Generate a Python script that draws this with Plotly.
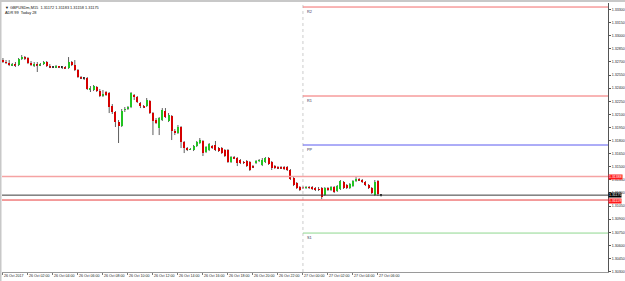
import plotly.graph_objects as go

# ---------------- data (GBPUSDm, M15, 26 Oct 2017 00:00 -> 27 Oct 06:15) ----------------
open_ = [1.32722,1.32699,1.32688,1.32665,1.32676,1.32665,1.32733,1.32756,1.32745,1.32688,
         1.32665,1.32676,1.32665,1.32676,1.32699,1.32653,1.32642,1.32642,1.32653,1.32642,
         1.32642,1.32630,1.32699,1.32665,1.32608,1.32527,1.32516,1.32516,1.32390,1.32379,
         1.32413,1.32367,1.32321,1.32356,1.32344,1.32195,1.32127,1.32012,1.31966,1.32150,
         1.32172,1.32184,1.32321,1.32298,1.32230,1.32195,1.32195,1.32253,1.32115,1.32035,
         1.31943,1.32035,1.32138,1.32024,1.32081,1.31909,1.31886,1.31955,1.31783,1.31714,
         1.31692,1.31692,1.31737,1.31772,1.31795,1.31669,1.31692,1.31737,1.31749,1.31714,
         1.31714,1.31692,1.31692,1.31554,1.31611,1.31600,1.31577,1.31554,1.31566,1.31554,
         1.31508,1.31543,1.31566,1.31520,1.31554,1.31600,1.31554,1.31508,1.31497,1.31497,
         1.31497,1.31497,1.31463,1.31371,1.31314,1.31268,1.31268,1.31257,1.31268,1.31268,
         1.31257,1.31245,1.31257,1.31176,1.31257,1.31234,1.31268,1.31222,1.31245,1.31325,
         1.31291,1.31257,1.31279,1.31337,1.31360,1.31348,1.31325,1.31291,1.31257,1.31176,
         1.31337,1.31172]
high = [1.32745,1.32722,1.32722,1.32688,1.32699,1.32745,1.32779,1.32768,1.32756,1.32711,
        1.32699,1.32699,1.32688,1.32711,1.32711,1.32676,1.32653,1.32665,1.32653,1.32653,
        1.32653,1.32756,1.32711,1.32722,1.32619,1.32539,1.32527,1.32527,1.32424,1.32436,
        1.32424,1.32390,1.32379,1.32367,1.32356,1.32218,1.32138,1.32035,1.32161,1.32184,
        1.32195,1.32356,1.32333,1.32310,1.32241,1.32207,1.32287,1.32264,1.32127,1.32058,
        1.32069,1.32172,1.32172,1.32115,1.32092,1.31932,1.31978,1.31966,1.31795,1.31726,
        1.31714,1.31749,1.31795,1.31829,1.31806,1.31737,1.31772,1.31749,1.31795,1.31726,
        1.31726,1.31703,1.31703,1.31623,1.31623,1.31611,1.31588,1.31566,1.31577,1.31566,
        1.31520,1.31577,1.31588,1.31600,1.31611,1.31611,1.31566,1.31520,1.31508,1.31508,
        1.31508,1.31508,1.31474,1.31382,1.31325,1.31279,1.31279,1.31279,1.31279,1.31279,
        1.31268,1.31268,1.31268,1.31268,1.31268,1.31279,1.31279,1.31291,1.31348,1.31337,
        1.31302,1.31314,1.31348,1.31382,1.31371,1.31360,1.31337,1.31302,1.31268,1.31348,
        1.31348,1.31183]
low = [1.32688,1.32676,1.32653,1.32653,1.32642,1.32653,1.32722,1.32722,1.32676,1.32653,
       1.32642,1.32585,1.32653,1.32665,1.32642,1.32630,1.32630,1.32630,1.32630,1.32619,
       1.32619,1.32619,1.32653,1.32596,1.32516,1.32504,1.32493,1.32379,1.32356,1.32367,
       1.32356,1.32298,1.32298,1.32310,1.32115,1.32104,1.31955,1.31772,1.31955,1.32127,
       1.32150,1.32172,1.32264,1.32230,1.32172,1.32172,1.32184,1.32104,1.31863,1.31989,
       1.31863,1.32024,1.32058,1.32012,1.31806,1.31863,1.31875,1.31714,1.31657,1.31680,
       1.31692,1.31680,1.31726,1.31760,1.31623,1.31657,1.31680,1.31703,1.31680,1.31669,
       1.31646,1.31611,1.31543,1.31543,1.31588,1.31508,1.31531,1.31531,1.31497,1.31451,
       1.31485,1.31531,1.31554,1.31508,1.31543,1.31520,1.31463,1.31474,1.31474,1.31474,
       1.31463,1.31451,1.31348,1.31279,1.31245,1.31222,1.31245,1.31245,1.31245,1.31234,
       1.31222,1.31222,1.31130,1.31165,1.31222,1.31222,1.31199,1.31211,1.31234,1.31245,
       1.31245,1.31245,1.31268,1.31325,1.31337,1.31314,1.31279,1.31245,1.31188,1.31165,
       1.31165,1.31158]
close = [1.32699,1.32688,1.32665,1.32676,1.32665,1.32733,1.32756,1.32745,1.32688,1.32665,
         1.32676,1.32665,1.32676,1.32699,1.32653,1.32642,1.32642,1.32653,1.32642,1.32642,
         1.32630,1.32699,1.32665,1.32608,1.32527,1.32516,1.32516,1.32390,1.32401,1.32424,
         1.32367,1.32310,1.32333,1.32321,1.32184,1.32127,1.32012,1.31966,1.32138,1.32161,
         1.32184,1.32344,1.32298,1.32241,1.32195,1.32184,1.32264,1.32115,1.32024,1.32001,
         1.32058,1.32150,1.32069,1.32092,1.31909,1.31886,1.31955,1.31783,1.31714,1.31692,
         1.31703,1.31737,1.31783,1.31806,1.31657,1.31726,1.31760,1.31714,1.31692,1.31680,
         1.31657,1.31623,1.31554,1.31611,1.31600,1.31543,1.31543,1.31543,1.31508,1.31463,
         1.31497,1.31566,1.31577,1.31577,1.31600,1.31531,1.31485,1.31485,1.31485,1.31485,
         1.31474,1.31463,1.31360,1.31291,1.31257,1.31234,1.31257,1.31268,1.31257,1.31245,
         1.31234,1.31234,1.31153,1.31257,1.31234,1.31268,1.31211,1.31279,1.31337,1.31257,
         1.31257,1.31302,1.31337,1.31360,1.31348,1.31325,1.31291,1.31257,1.31199,1.31325,
         1.31188,1.31175]

tick_index = list(range(0, 121, 8))
tick_labels = ["26 Oct 2017", "26 Oct 02:00", "26 Oct 04:00", "26 Oct 06:00", "26 Oct 08:00",
               "26 Oct 10:00", "26 Oct 12:00", "26 Oct 14:00", "26 Oct 16:00", "26 Oct 18:00",
               "26 Oct 20:00", "26 Oct 22:00", "27 Oct 00:00", "27 Oct 02:00", "27 Oct 04:00",
               "27 Oct 06:00"]
price_ticks = [round(1.30300 + 0.0015 * k, 5) for k in range(21)]

pivot_names = ["R2", "R1", "PP", "S1"]
pivot_levels = [1.33329, 1.32310, 1.31749, 1.30741]
pivot_colors = ["#f26a6a", "#f26a6a", "#5a5af0", "#8fd88f"]
day_start_index = 96

bid = 1.31175
upper_level = 1.31388
lower_level = 1.31119

header_line1 = "▼ GBPUSDm,M15  1.31172 1.31183 1.31158 1.31175"
header_line2 = "ADR 99  Today 28"

# ---------------- geometry ----------------
W, H = 625, 281
L, R, T, B = 2, 17, 3, 9
x_range = [-0.3, 193.62]
y_range = [1.30295, 1.33375]
PW, PH = W - L - R, H - T - B


def px_x(px):
    return (px - L) / PW


def px_y(py):
    return (H - B - py) / PH


FONT = "Liberation Sans, Arial, sans-serif"

fig = go.Figure()

# wicks (upper and lower part separately so they do not cross the bodies)
wx, wy = [], []
for i, (o, h, l, c) in enumerate(zip(open_, high, low, close)):
    top, bot = max(o, c), min(o, c)
    wx += [i, i, None, i, i, None]
    wy += [h, top, None, bot, l, None]
fig.add_trace(go.Scatter(x=wx, y=wy, mode="lines", line=dict(color="#5e5e5e", width=1),
                         hoverinfo="skip", showlegend=False))

# bodies
bx, bbase, bh, bcol = [], [], [], []
min_body = 0.00007
for i, (o, c) in enumerate(zip(open_, close)):
    bx.append(i)
    size = abs(c - o)
    if size < min_body:
        bbase.append((o + c) / 2 - min_body / 2)
        bh.append(min_body)
        bcol.append("#1a1a1a")
    else:
        bbase.append(min(o, c))
        bh.append(size)
        bcol.append("#22c322" if c > o else "#d40000")
fig.add_trace(go.Bar(x=bx, y=bh, base=bbase, width=0.66, marker=dict(color=bcol, line=dict(width=0)),
                     hoverinfo="skip", showlegend=False))

shapes = []
# day separator
shapes.append(dict(type="line", xref="x", yref="paper", x0=day_start_index, x1=day_start_index,
                   y0=0, y1=1, line=dict(color="#cccccc", width=1, dash="dot")))
# pivot lines
for name, lvl, col in zip(pivot_names, pivot_levels, pivot_colors):
    shapes.append(dict(type="line", xref="x", yref="y", x0=day_start_index, x1=x_range[1],
                       y0=lvl, y1=lvl, line=dict(color=col, width=1)))
# full-width horizontal lines
shapes.append(dict(type="line", xref="paper", yref="y", x0=0, x1=1, y0=upper_level, y1=upper_level,
                   line=dict(color="#f5a3a3", width=1.6)))
shapes.append(dict(type="line", xref="paper", yref="y", x0=0, x1=1, y0=bid, y1=bid,
                   line=dict(color="#3c3c3c", width=1)))
shapes.append(dict(type="line", xref="paper", yref="y", x0=0, x1=1, y0=lower_level, y1=lower_level,
                   line=dict(color="#e83a3a", width=1)))
# window borders
shapes.append(dict(type="rect", xref="paper", yref="paper", x0=px_x(0), x1=px_x(W), y0=px_y(2),
                   y1=px_y(0), fillcolor="#c8c8c8", line=dict(width=0), layer="above"))
shapes.append(dict(type="rect", xref="paper", yref="paper", x0=px_x(0), x1=px_x(1.5), y0=px_y(H),
                   y1=px_y(0), fillcolor="#c8c8c8", line=dict(width=0), layer="above"))

annotations = []
for name, lvl in zip(pivot_names, pivot_levels):
    annotations.append(dict(x=day_start_index + 0.6, y=lvl, xref="x", yref="y", text=name,
                            showarrow=False, xanchor="left", yanchor="top", yshift=-0.5,
                            font=dict(size=3.8, color="#333355", family=FONT)))
annotations.append(dict(x=px_x(3), y=px_y(2.5), xref="paper", yref="paper", text=header_line1,
                        showarrow=False, xanchor="left", yanchor="top",
                        font=dict(size=3.9, color="#111111", family=FONT)))
annotations.append(dict(x=px_x(3), y=px_y(8), xref="paper", yref="paper", text=header_line2,
                        showarrow=False, xanchor="left", yanchor="top",
                        font=dict(size=3.9, color="#111111", family=FONT)))
# price labels on the right axis
for val, bg, shift in [(upper_level, "#ff1a1a", 0), (lower_level, "#ff1a1a", -1.2), (bid, "#000000", 0.6)]:
    annotations.append(dict(x=1, y=val, xref="paper", yref="y", text=f"{val:.5f}", showarrow=False,
                            xanchor="left", yanchor="middle", bgcolor=bg, borderpad=0, yshift=shift,
                            font=dict(size=3.5, color="#ffffff", family=FONT)))

fig.update_layout(
    width=W, height=H,
    margin=dict(l=L, r=R, t=T, b=B, pad=0, autoexpand=False),
    paper_bgcolor="white", plot_bgcolor="white",
    showlegend=False, bargap=0,
    shapes=shapes, annotations=annotations,
    xaxis=dict(range=x_range, tickmode="array", tickvals=tick_index, ticktext=tick_labels,
               showgrid=False, zeroline=False, showline=True, linecolor="#9a9a9a", linewidth=1,
               ticks="outside", ticklen=2, tickcolor="#777777", ticklabelposition="outside right",
               tickangle=0, automargin=False,
               tickfont=dict(size=3.6, color="#222222", family=FONT), fixedrange=True),
    yaxis=dict(range=y_range, side="right", tickmode="array", tickvals=price_ticks,
               ticktext=[f"{v:.5f}" for v in price_ticks], automargin=False,
               showgrid=False, zeroline=False, showline=True, linecolor="#555555", linewidth=1,
               ticks="outside", ticklen=2, tickcolor="#555555",
               tickfont=dict(size=3.6, color="#222222", family=FONT), fixedrange=True),
)

fig.write_html("out.html")
